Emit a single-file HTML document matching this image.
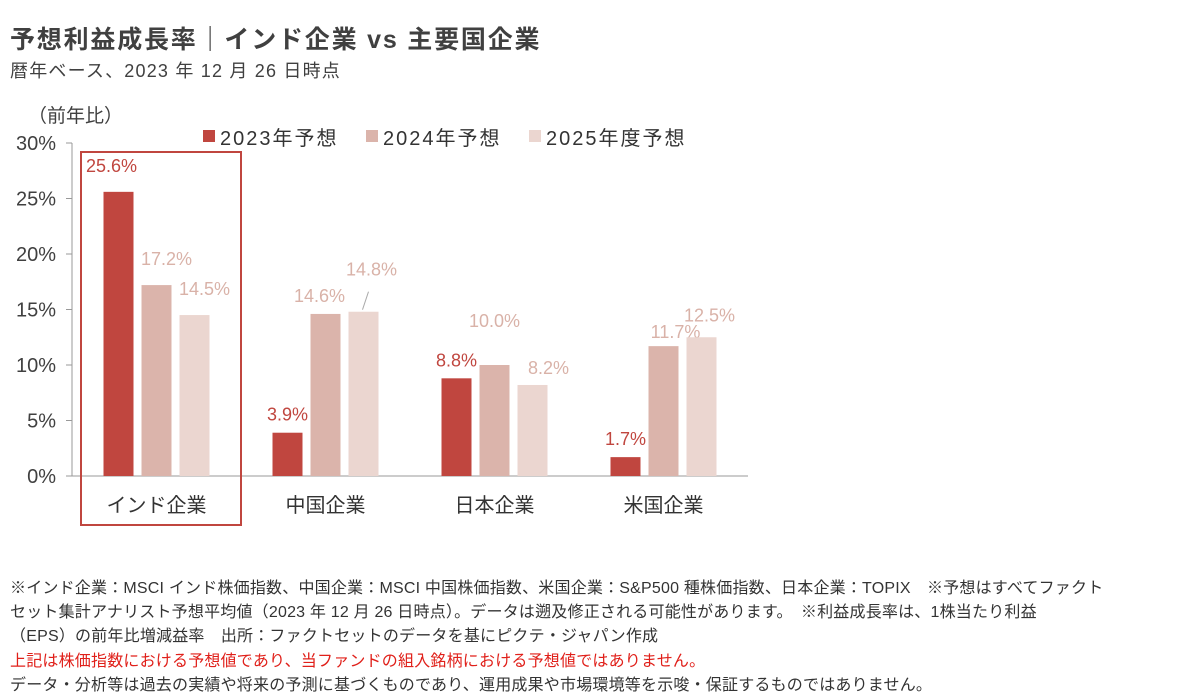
<!DOCTYPE html>
<html><head><meta charset="utf-8"><style>
body{margin:0;width:1203px;height:690px;background:#fff;overflow:hidden;font-family:"Liberation Sans","Noto Sans CJK JP",sans-serif;color:#333}
.t{position:absolute;white-space:nowrap}
</style></head><body>
<div class="t" style="left:10px;top:20px;font-size:25px;letter-spacing:1.8px;font-weight:bold;color:#404040">予想利益成長率｜インド企業 vs 主要国企業</div>
<div class="t" style="left:10px;top:57px;font-size:18px;letter-spacing:1.2px;color:#404040">暦年ベース、2023 年 12 月 26 日時点</div>
<div style="position:absolute;left:10px;top:577px;font-size:16px;line-height:24.2px;color:#333;letter-spacing:0.2px">
<div class="t" style="position:static">※インド企業：MSCI インド株価指数、中国企業：MSCI 中国株価指数、米国企業：S&amp;P500 種株価指数、日本企業：TOPIX　※予想はすべてファクト</div>
<div class="t" style="position:static">セット集計アナリスト予想平均値（2023 年 12 月 26 日時点）。データは遡及修正される可能性があります。　※利益成長率は、1株当たり利益</div>
<div class="t" style="position:static">（EPS）の前年比増減益率　出所：ファクトセットのデータを基にピクテ・ジャパン作成</div>
<div class="t" style="position:static;color:#e0201a">上記は株価指数における予想値であり、当ファンドの組入銘柄における予想値ではありません。</div>
<div class="t" style="position:static">データ・分析等は過去の実績や将来の予測に基づくものであり、運用成果や市場環境等を示唆・保証するものではありません。</div>
</div>
<svg id="chart" width="1203" height="690" style="position:absolute;left:0;top:0"></svg>
<script>
const categories=["インド企業","中国企業","日本企業","米国企業"];
const series=["2023年予想","2024年予想","2025年度予想"];
const v2023=[25.6,3.9,8.8,1.7];
const v2024=[17.2,14.6,10.0,11.7];
const v2025=[14.5,14.8,8.2,12.5];
const yTicks=[0,5,10,15,20,25,30];
const colors=["#c0463f","#dbb4ab","#ebd6d0"];
const labelColors=["#c0463f","#d9b2a8","#d9b2a8"];
const NS="http://www.w3.org/2000/svg";
const svg=document.getElementById("chart");
const x0=72,x1=748,y0=476,yTop=143;
const y=v=>y0-(v/30)*(y0-yTop);
const bw=(x1-x0)/categories.length;
const cx=i=>x0+bw*(i+0.5);
function mk(tag,a){const e=document.createElementNS(NS,tag);for(const k in a)e.setAttribute(k,a[k]);svg.appendChild(e);return e;}
const F='"Liberation Sans","Noto Sans CJK JP",sans-serif';
let ax=mk("line",{x1:x0,x2:x0,y1:yTop,y2:y0,stroke:"#999"});


let bx=mk("line",{x1:x0-6,x2:x1,y1:y0,y2:y0,stroke:"#999"});


yTicks.forEach(t=>{
 mk("line",{x1:x0-6,x2:x0,y1:y(t),y2:y(t),stroke:"#999"});
 const e=mk("text",{x:x0-16,y:y(t)+7,"text-anchor":"end","font-size":20,fill:"#404040","font-family":F});
 e.textContent=t+"%";
 
 
});
let yt=mk("text",{x:28,y:122,"font-size":19,fill:"#404040","font-family":F});yt.textContent="（前年比）";


const all=[v2023,v2024,v2025];
const off=[-38,0,38];
categories.forEach((c,i)=>{
 all.forEach((arr,s)=>{
  const bxp=cx(i)+off[s]-15;
  const r=mk("rect",{x:bxp,y:y(arr[i]),width:30,height:y0-y(arr[i]),fill:colors[s]});
  
  
  let ly=y(arr[i])-12,lx=bxp+15;
  if(i===1&&s===2){ly=y(arr[i])-36;lx+=8;mk("line",{x1:bxp+14,y1:y(arr[i])-2,x2:bxp+20,y2:y(arr[i])-20,stroke:"#aaa"});}
  if(i===2&&s===1){ly=y(arr[i])-38;}
  if(i===2&&s===2){ly=y(arr[i])-11;lx+=16;}
  if(i===1&&s===1){lx-=6;}
  if(i===3&&s===1){ly=y(arr[i])-8;lx+=12;}
  if(i===3&&s===2){ly=y(arr[i])-16;lx+=8;}
  if(i===0&&s>0){ly=y(arr[i])-20;lx+=10;}
  if(i===0&&s===0){ly=y(arr[i])-20;lx-=7;}
  const t=mk("text",{x:lx,y:ly,"text-anchor":"middle","font-size":18,fill:labelColors[s],"font-family":F});
  t.textContent=arr[i].toFixed(1)+"%";
  
  
 });
 const l=mk("text",{x:cx(i),y:512,"text-anchor":"middle","font-size":20,fill:"#333","font-family":F});
 l.textContent=c;
 
 
});
const hb=mk("rect",{x:81,y:152,width:160,height:373,fill:"none",stroke:"#c0463f","stroke-width":2});


const legX=[203,366,529];
series.forEach((s,k)=>{
 const r=mk("rect",{x:legX[k],y:130,width:12,height:12,fill:colors[k]});
 
 
 const t=mk("text",{x:legX[k]+17,y:145,"font-size":20,fill:"#333","font-family":F,"letter-spacing":"2"});
 t.textContent=s;
 
 
});
</script>
</body></html>
